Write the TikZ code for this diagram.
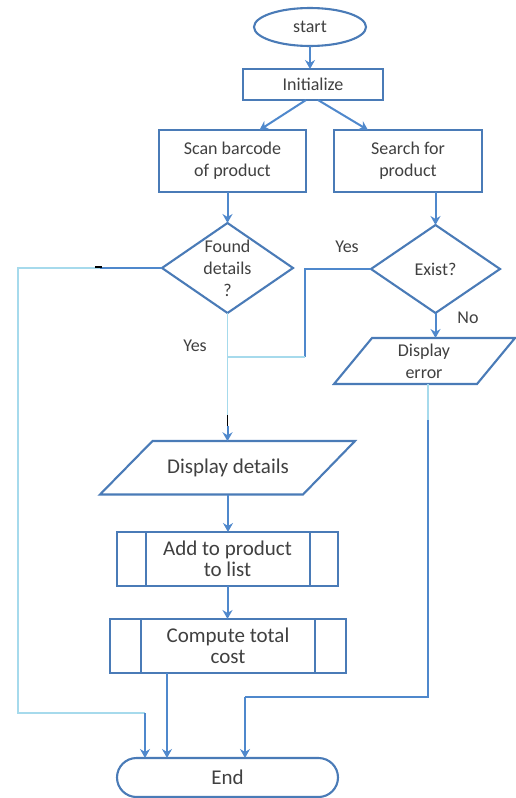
\documentclass[tikz,border=0pt]{standalone}
\usepackage{fontspec}
\setmainfont{Carlito}
\usetikzlibrary{shapes.geometric,shapes.misc,arrows.meta}
\definecolor{boxc}{HTML}{4A7BB7}
\definecolor{arrc}{HTML}{4F88CC}
\definecolor{lightc}{HTML}{A6DAEC}
\definecolor{txtc}{HTML}{404040}
\begin{document}
\begin{tikzpicture}[x=1pt,y=-1pt,
  smallfont/.style={font=\fontsize{18}{22}\selectfont},
  bigfont/.style={font=\fontsize{21}{21}\selectfont},
  box/.style={draw=boxc, line width=2.1pt, fill=white, text=txtc, align=center,
    inner sep=0pt, outer sep=0pt, smallfont},
  outline/.style={draw=boxc, line width=2.1pt, line join=miter},
  txt/.style={text=txtc, align=center, inner sep=0pt, outer sep=0pt, smallfont},
  arr/.style={draw=arrc, line width=2pt, -{Stealth[length=9pt,width=10pt,inset=3pt]}},
  solidline/.style={draw=arrc, line width=2pt},
  lightline/.style={draw=lightc, line width=1.6pt},
  tick/.style={draw=black, line width=1.8pt}]
\useasboundingbox (0,0) rectangle (515,798);

% nodes
\node[ellipse, box, minimum width=112pt, minimum height=38pt] (start) at (310,27) {start};
\node[box, minimum width=140pt, minimum height=31pt] (init) at (313,84.5) {Initialize};
\node[box, minimum width=147pt, minimum height=62pt] (scan) at (232.5,161) {Scan barcode\\of product};
\node[box, minimum width=148pt, minimum height=62pt] (search) at (408,161) {Search for\\product};
\node[diamond, box, minimum width=131pt, minimum height=90pt] (found) at (227.5,268) {};
\node[txt] (foundt) at (found.center) {Found\\details\\?};
\node[diamond, box, minimum width=129pt, minimum height=88pt] (exist) at (435.5,269) {};
\node[txt] (existt) at (exist.center) {Exist?};

\draw[outline] (334,384) -- (372,338) -- (515,338) -- (477,384) -- cycle;
\node[txt, minimum height=46pt] (disperr) at (424,361) {Display\\error};

\draw[outline] (100,494.5) -- (152.5,441) -- (355,441) -- (303,494.5) -- cycle;
\node[txt, bigfont, minimum height=53.5pt] (disp) at (228,468) {Display details};

\node[box, bigfont, minimum width=221pt, minimum height=54pt] (add) at (227.5,559) {Add to product\\to list};
\draw[outline] ([xshift=29pt]add.north west) -- ([xshift=29pt]add.south west);
\draw[outline] ([xshift=-28pt]add.north east) -- ([xshift=-28pt]add.south east);

\node[box, bigfont, minimum width=236pt, minimum height=54pt] (comp) at (228,646) {Compute total\\cost};
\draw[outline] ([xshift=31pt]comp.north west) -- ([xshift=31pt]comp.south west);
\draw[outline] ([xshift=-31pt]comp.north east) -- ([xshift=-31pt]comp.south east);

\node[rounded rectangle, box, bigfont, minimum width=221pt, minimum height=39pt] (end) at (227.5,777.5) {End};

% labels
\node[txt] (yes1) at (347,247) {Yes};
\node[txt] (yes2) at (195,346) {Yes};
\node[txt] (no1) at (468,318) {No};

% straight connectors
\draw[arr] (start.south) -- (start.south |- init.north);
\draw[arr] ([xshift=-7pt]init.south) -- ([xshift=27pt]scan.north);
\draw[arr] ([xshift=5pt]init.south) -- ([xshift=-40pt]search.north);
\draw[arr] (found.north |- scan.south) -- (found.north);
\draw[arr] (exist.north |- search.south) -- (exist.north);
\draw[arr] (exist.south) -- (exist.south |- disperr.north);
\draw[arr] (disp.south) -- (disp.south |- add.north);
\draw[arr] (add.south) -- (add.south |- comp.north);
\draw[arr] ([xshift=-61pt]comp.south) -- ([xshift=-61pt]comp.south |- end.north);

% found: no branch (left)
\coordinate (fl1) at (100,268);
\coordinate (fl2) at (18,268);
\coordinate (fl3) at (18,713);
\coordinate (fl4) at (145,713);
\draw[solidline] (found.west) -- (fl1);
\draw[lightline] (fl1) -- (fl2) -- (fl3) -- (fl4);
\draw[tick] (95,267) -- (102,267);
\draw[arr] (fl4) -- (fl4 |- end.north);

% found: yes branch (down)
\coordinate (fb1) at (227.5,415);
\coordinate (fb2) at (227.5,426);
\draw[lightline] (found.south) -- (fb1);
\draw[tick] (fb1) -- (fb2);
\draw[arr] (fb2) -- (fb2 |- disp.north);

% exist: yes branch (left)
\coordinate (el1) at (305,269);
\coordinate (el2) at (305,357);
\coordinate (el3) at (227.5,357);
\draw[solidline] (exist.west) -- (el1) -- (el2);
\draw[lightline] (el2) -- (el3);

% display error to end
\coordinate (eb1) at (428,420);
\coordinate (eb2) at (428,697);
\coordinate (eb3) at (245,697);
\draw[lightline] ([xshift=4pt]disperr.south) -- (eb1);
\draw[solidline] (eb1) -- (eb2) -- (eb3);
\draw[arr] (eb3) -- (eb3 |- end.north);
\end{tikzpicture}
\end{document}
